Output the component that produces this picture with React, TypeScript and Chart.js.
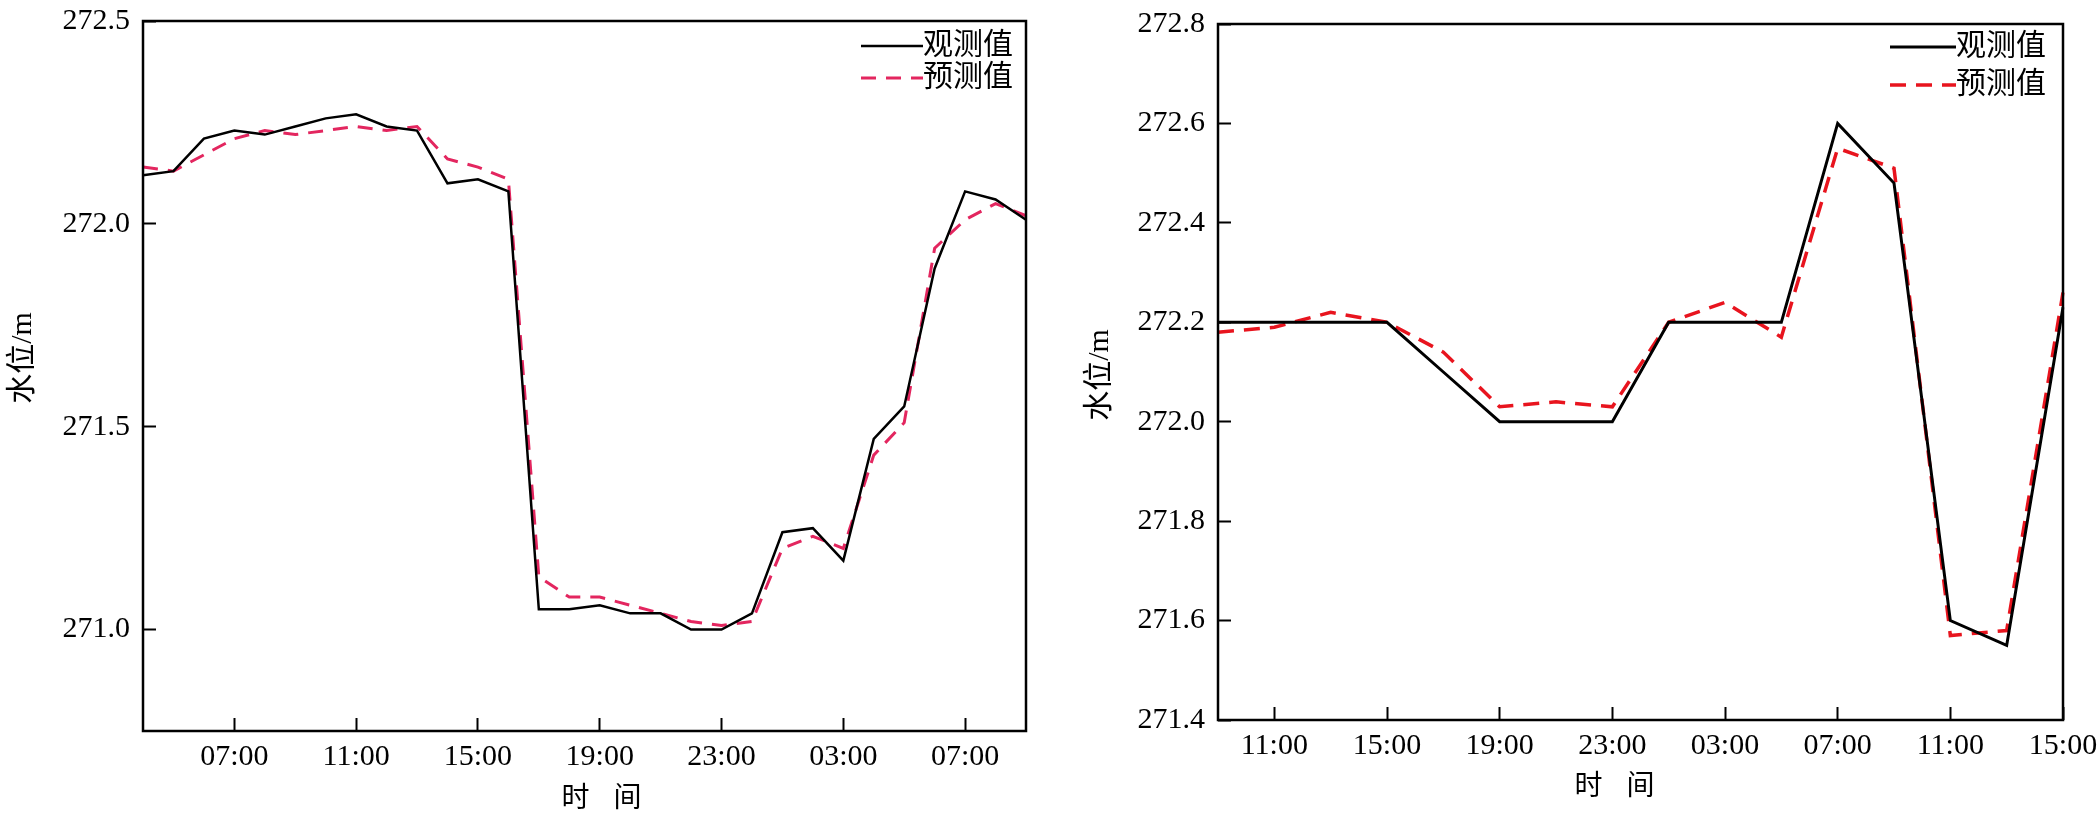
import { useEffect, useRef } from 'react'
import { Chart, registerables } from 'chart.js'

Chart.register(...registerables)

const FONT = '"Liberation Serif", "Noto Sans CJK SC", serif'
Chart.defaults.font.family = FONT
Chart.defaults.color = '#000'

// left panel: hourly, 04:00 -> 09:00 next day
const leftTimes = [
  '04:00', '05:00', '06:00', '07:00', '08:00', '09:00', '10:00', '11:00', '12:00', '13:00',
  '14:00', '15:00', '16:00', '17:00', '18:00', '19:00', '20:00', '21:00', '22:00', '23:00',
  '00:00', '01:00', '02:00', '03:00', '04:00', '05:00', '06:00', '07:00', '08:00', '09:00',
]
const leftObserved = [
  272.12, 272.13, 272.21, 272.23, 272.22, 272.24, 272.26, 272.27, 272.24, 272.23,
  272.10, 272.11, 272.08, 271.05, 271.05, 271.06, 271.04, 271.04, 271.0, 271.0,
  271.04, 271.24, 271.25, 271.17, 271.47, 271.55, 271.89, 272.08, 272.06, 272.01,
]
const leftPredicted = [
  272.14, 272.13, 272.17, 272.21, 272.23, 272.22, 272.23, 272.24, 272.23, 272.24,
  272.16, 272.14, 272.11, 271.13, 271.08, 271.08, 271.06, 271.04, 271.02, 271.01,
  271.02, 271.2, 271.23, 271.2, 271.43, 271.51, 271.94, 272.01, 272.05, 272.02,
]
const leftYTicks = [271.0, 271.5, 272.0, 272.5]

// right panel: every 2 hours, 09:00 -> 15:00 next day
const rightTimes = [
  '09:00', '11:00', '13:00', '15:00', '17:00', '19:00', '21:00', '23:00',
  '01:00', '03:00', '05:00', '07:00', '09:00', '11:00', '13:00', '15:00',
]
const rightObserved = [
  272.2, 272.2, 272.2, 272.2, 272.1, 272.0, 272.0, 272.0,
  272.2, 272.2, 272.2, 272.6, 272.48, 271.6, 271.55, 272.23,
]
const rightPredicted = [
  272.18, 272.19, 272.22, 272.2, 272.14, 272.03, 272.04, 272.03,
  272.2, 272.24, 272.17, 272.55, 272.51, 271.57, 271.58, 272.26,
]
const rightYTicks = [271.4, 271.6, 271.8, 272.0, 272.2, 272.4, 272.6, 272.8]

const framePlugin = {
  id: 'frame',
  afterDraw(chart: any) {
    const { ctx, chartArea: a } = chart
    ctx.save()
    ctx.strokeStyle = '#000'
    ctx.lineWidth = 2.5
    ctx.strokeRect(a.left, a.top, a.right - a.left, a.bottom - a.top)
    ctx.restore()
  },
}

// legend drawn inside the top-right corner of the plot
const insideLegend = {
  id: 'insideLegend',
  afterDraw(chart: any, _args: any, opts: any) {
    const { ctx, chartArea: a } = chart
    ctx.save()
    ctx.font = `30px ${FONT}`
    ctx.textBaseline = 'middle'
    chart.data.datasets.forEach((ds: any, i: number) => {
      const y = a.top + opts.rows[i]
      const textRight = a.right - opts.right
      const w = ctx.measureText(ds.label).width
      const textLeft = textRight - w
      ctx.fillStyle = '#000'
      ctx.textAlign = 'left'
      ctx.fillText(ds.label, textLeft, y)
      ctx.strokeStyle = ds.borderColor
      ctx.lineWidth = ds.borderWidth
      ctx.setLineDash(ds.borderDash || [])
      ctx.beginPath()
      ctx.moveTo(textLeft - opts.lineLen, y)
      ctx.lineTo(textLeft, y)
      ctx.stroke()
    })
    ctx.restore()
  },
}

// axis titles, placed relative to the plot area
const axisTitles = {
  id: 'axisTitles',
  afterDraw(chart: any, _args: any, opts: any) {
    const { ctx, chartArea: a } = chart
    ctx.save()
    ctx.fillStyle = '#000'
    ctx.textAlign = 'center'
    ctx.textBaseline = 'middle'
    const cx = (a.left + a.right) / 2 + opts.xShift
    const ty = a.bottom + opts.xOffset
    ctx.font = `28px ${FONT}`
    ctx.fillText('时', cx - opts.xGap, ty)
    ctx.fillText('间', cx + opts.xGap, ty)
    ctx.font = `30px ${FONT}`
    ctx.translate(a.left - opts.yOffset, (a.top + a.bottom) / 2 + opts.yShift)
    ctx.rotate(-Math.PI / 2)
    ctx.fillText('水位/m', 0, 0)
    ctx.restore()
  },
}

type PanelProps = {
  left: number
  labels: string[]
  observed: number[]
  predicted: number[]
  yTicks: number[]
  yMin: number
  yMax: number
  tickStart: number
  tickEvery: number
  predColor: string
  obsWidth: number
  predWidth: number
  predDash: number[]
  yAxisWidth: number
  xAxisHeight: number
  padTop: number
  padRight: number
  titles: { xShift: number; xOffset: number; xGap: number; yOffset: number; yShift: number }
  legendRows: number[]
  legendRight: number
  legendLine: number
}

function Panel(p: PanelProps) {
  const ref = useRef<HTMLCanvasElement>(null)

  useEffect(() => {
    if (!ref.current) return
    const chart = new Chart(ref.current, {
      type: 'line',
      data: {
        labels: p.labels,
        datasets: [
          {
            label: '观测值',
            data: p.observed,
            borderColor: '#000',
            borderWidth: p.obsWidth,
            pointRadius: 0,
            tension: 0,
          },
          {
            label: '预测值',
            data: p.predicted,
            borderColor: p.predColor,
            borderWidth: p.predWidth,
            borderDash: p.predDash,
            pointRadius: 0,
            tension: 0,
          },
        ],
      },
      options: {
        responsive: false,
        animation: false,
        layout: { padding: { left: 0, top: p.padTop, right: p.padRight, bottom: 0 } },
        plugins: {
          legend: { display: false },
          tooltip: { enabled: false },
          insideLegend: { rows: p.legendRows, right: p.legendRight, lineLen: p.legendLine },
          axisTitles: p.titles,
        } as any,
        scales: {
          x: {
            type: 'category',
            offset: false,
            afterBuildTicks: (s: any) => {
              s.ticks = s.ticks.filter(
                (t: any) => t.value >= p.tickStart && (t.value - p.tickStart) % p.tickEvery === 0,
              )
            },
            afterFit: (s: any) => {
              s.height = p.xAxisHeight
              s.paddingLeft = 0
              s.paddingRight = 0
            },
            ticks: { autoSkip: false, maxRotation: 0, padding: 21, color: '#000', font: { size: 30 } },
            grid: { drawOnChartArea: false, tickLength: -13, tickWidth: 2, tickColor: '#000' },
            border: { display: false },
          },
          y: {
            min: p.yMin,
            max: p.yMax,
            afterBuildTicks: (s: any) => {
              s.ticks = p.yTicks.map((v) => ({ value: v }))
            },
            afterFit: (s: any) => {
              s.width = p.yAxisWidth
              s.paddingTop = 0
              s.paddingBottom = 0
            },
            ticks: {
              padding: 26,
              color: '#000',
              font: { size: 30 },
              callback: (v: any) => Number(v).toFixed(1),
            },
            grid: { drawOnChartArea: false, tickLength: -13, tickWidth: 2, tickColor: '#000' },
            border: { display: false },
          },
        },
      },
      plugins: [framePlugin, insideLegend, axisTitles],
    })
    return () => chart.destroy()
  }, [])

  return (
    <canvas
      ref={ref}
      width={1050}
      height={820}
      style={{ position: 'absolute', left: p.left, top: 0, width: 1050, height: 820 }}
    />
  )
}

export default function App() {
  return (
    <div style={{ position: 'absolute', left: 0, top: 0, width: 2100, height: 820, background: '#fff' }}>
      <Panel
        left={0}
        labels={leftTimes}
        observed={leftObserved}
        predicted={leftPredicted}
        yTicks={leftYTicks}
        yMin={270.75}
        yMax={272.5}
        tickStart={3}
        tickEvery={4}
        predColor="#e3265f"
        obsWidth={2.5}
        predWidth={3}
        predDash={[15, 10]}
        yAxisWidth={143}
        xAxisHeight={89}
        padTop={21}
        padRight={24}
        titles={{ xShift: 17, xOffset: 69, xGap: 26, yOffset: 120, yShift: -18 }}
        legendRows={[25, 57]}
        legendRight={13}
        legendLine={62}
      />
      <Panel
        left={1050}
        labels={rightTimes}
        observed={rightObserved}
        predicted={rightPredicted}
        yTicks={rightYTicks}
        yMin={271.4}
        yMax={272.8}
        tickStart={1}
        tickEvery={2}
        predColor="#e8141e"
        obsWidth={3}
        predWidth={3.5}
        predDash={[16, 10]}
        yAxisWidth={168}
        xAxisHeight={100}
        padTop={24}
        padRight={37}
        titles={{ xShift: -26, xOffset: 68, xGap: 26, yOffset: 118, yShift: 3 }}
        legendRows={[23, 61]}
        legendRight={17}
        legendLine={66}
      />
    </div>
  )
}
